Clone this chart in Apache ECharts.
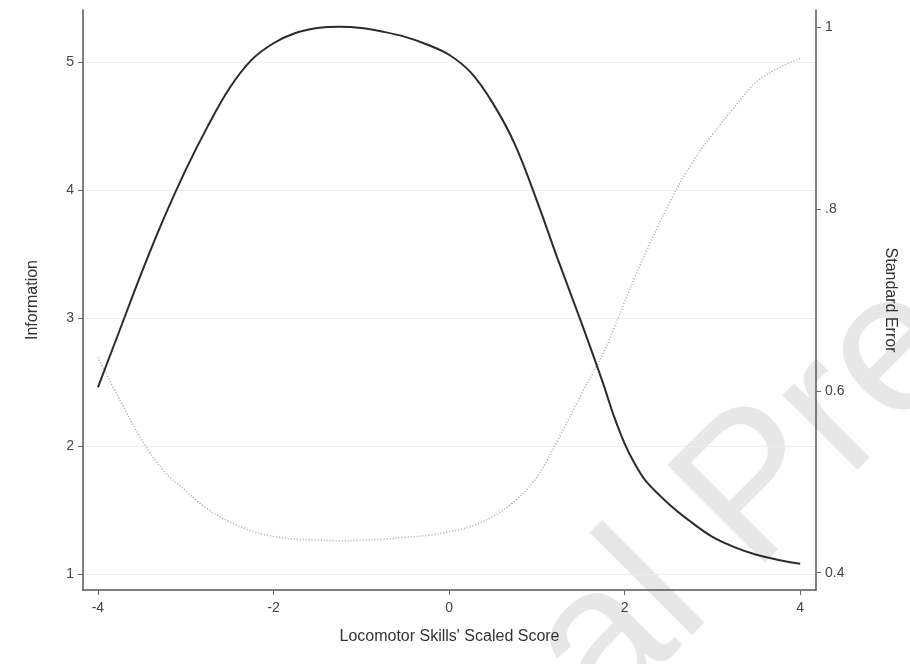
<!DOCTYPE html>
<html>
<head>
<meta charset="utf-8">
<script src="https://cdn.jsdelivr.net/npm/echarts@6/dist/echarts.min.js"></script>
<style>
html,body{margin:0;padding:0;background:#fff;}
#chart{width:910px;height:664px;}
</style>
</head>
<body>
<div id="chart"></div>
<script>
// Scaled score (theta)
var scores = [-4,-3.75,-3.5,-3.25,-3,-2.75,-2.5,-2.25,-2,-1.75,-1.5,-1.25,-1,-0.75,-0.5,-0.25,0,0.25,0.5,0.75,1,1.25,1.5,1.75,1.875,2,2.125,2.25,2.5,2.75,3,3.25,3.5,3.75,4];
// Test information (left axis)
var information = [2.46,2.91,3.36,3.78,4.16,4.50,4.80,5.02,5.15,5.23,5.27,5.28,5.27,5.24,5.20,5.14,5.06,4.92,4.68,4.36,3.92,3.44,2.98,2.50,2.24,2.02,1.85,1.72,1.55,1.41,1.29,1.21,1.15,1.11,1.08];
// Standard error (right axis)
var standardError = [0.637,0.590,0.546,0.512,0.490,0.470,0.456,0.446,0.440,0.437,0.436,0.435,0.436,0.437,0.439,0.441,0.445,0.451,0.462,0.479,0.505,0.548,0.595,0.640,0.668,0.698,0.727,0.754,0.805,0.848,0.882,0.912,0.940,0.955,0.966];

var xTicks = [-4,-2,0,2,4];
var infoTicks = [1,2,3,4,5];
var seTicks = [0.4,0.6,0.8,1.0];
var seTickLabels = ['0.4','0.6','.8','1'];
var watermarkText = 'Journal Pre-proof';

var FONT = 'Liberation Sans, Arial, sans-serif';
var axisColor = '#555';
var textColor = '#444';

function zip(xs, ys){ return xs.map(function(x,i){ return [x, ys[i]]; }); }

var chart = echarts.init(document.getElementById('chart'), null, {renderer:'canvas'});
chart.setOption({
  backgroundColor:'#fff',
  animation:false,
  textStyle:{fontFamily:FONT},
  graphic:[{
    type:'text', x:211, y:1038, rotation:45*Math.PI/180, z:-10, silent:true,
    style:{text:watermarkText, font:'200px Liberation Sans, Arial, sans-serif', fill:'#e7e7e7', textAlign:'left', textVerticalAlign:'middle'}
  }],
  grid:{left:83, right:94, top:10, bottom:74, containLabel:false},
  xAxis:{
    type:'value', min:-4.17, max:4.18,
    name:"Locomotor Skills' Scaled Score", nameLocation:'middle', nameGap:39,
    nameTextStyle:{fontSize:16, color:'#333', fontFamily:FONT},
    axisLine:{show:true, onZero:false, lineStyle:{color:axisColor, width:1.5}},
    axisTick:{show:true, inside:false, length:5, customValues:xTicks, lineStyle:{color:'#666'}},
    axisLabel:{customValues:xTicks, margin:11, fontSize:14, color:textColor, fontFamily:FONT},
    splitLine:{show:false}
  },
  yAxis:[{
    type:'value', position:'left', min:0.875, max:5.41,
    name:'Information', nameLocation:'middle', nameGap:42, nameRotate:90,
    nameTextStyle:{fontSize:16, color:'#333', fontFamily:FONT},
    axisLine:{show:true, onZero:false, lineStyle:{color:axisColor, width:1.5}},
    axisTick:{show:true, length:5, customValues:infoTicks, lineStyle:{color:'#666'}},
    axisLabel:{customValues:infoTicks, margin:9, fontSize:14, color:textColor, fontFamily:FONT},
    splitLine:{show:true, lineStyle:{color:'#eeeeee', width:1}}
  },{
    type:'value', position:'right', min:0.381, max:1.019,
    name:'Standard Error', nameLocation:'middle', nameGap:66, nameRotate:-90,
    nameTextStyle:{fontSize:16, color:'#333', fontFamily:FONT},
    axisLine:{show:true, onZero:false, lineStyle:{color:axisColor, width:1.5}},
    axisTick:{show:true, length:5, customValues:seTicks, lineStyle:{color:'#666'}},
    axisLabel:{customValues:seTicks, margin:9, fontSize:14, color:textColor, fontFamily:FONT,
      formatter:function(v){ var i = seTicks.findIndex(function(t){return Math.abs(t-v)<1e-6;}); return i>=0?seTickLabels[i]:''; }},
    splitLine:{show:false}
  }],
  series:[{
    name:'Information', type:'line', yAxisIndex:0, data:zip(scores, information),
    smooth:0.35, showSymbol:false, symbol:'none',
    lineStyle:{color:'#2b2b2b', width:2}, z:5
  },{
    name:'Standard Error', type:'line', yAxisIndex:1, data:zip(scores, standardError),
    smooth:0.35, showSymbol:false, symbol:'none',
    lineStyle:{color:'#a8a8a8', width:1.5, type:[1,2]}, z:4
  }]
});
</script>
</body>
</html>
